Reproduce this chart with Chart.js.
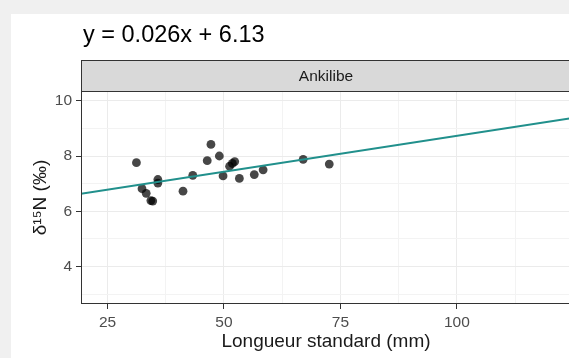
<!DOCTYPE html>
<html>
<head>
<meta charset="utf-8">
<script src="https://cdn.jsdelivr.net/npm/chart.js@4/dist/chart.umd.min.js"></script>
<style>
  html, body { margin: 0; padding: 0; overflow: hidden; background: #f0f0f0; width: 569px; height: 358px; }
  canvas { display: block; }
</style>
</head>
<body>
<canvas id="c" width="580" height="358" style="width:580px;height:358px"></canvas>
<script>
// Standard length (mm) and δ15N (‰) of each fish caught at Ankilibe
const lengthMm = [31.2, 32.4, 33.3, 34.3, 34.7, 35.8, 35.8, 41.2, 43.3, 46.4, 47.2,
                  49.0, 49.8, 51.2, 51.8, 52.3, 53.3, 56.5, 58.4, 67.0, 72.6];
const delta15N = [7.76, 6.82, 6.65, 6.39, 6.37, 7.15, 7.02, 6.73, 7.30, 7.83, 8.42,
                  8.00, 7.28, 7.63, 7.73, 7.80, 7.19, 7.33, 7.50, 7.88, 7.71];

// Linear fit printed above the panel
const fitSlope = 0.026;
const fitIntercept = 6.13;

const siteName = 'Ankilibe';
const xTicks = [25, 37.5, 50, 62.5, 75, 87.5, 100, 112.5];
const xLabelled = [25, 50, 75, 100];
const yTicks = [3, 4, 5, 6, 7, 8, 9, 10];
const yLabelled = [4, 6, 8, 10];

const X_MIN = 19.3, X_MAX = 124.5;
const Y_MIN = 2.65, Y_MAX = 10.35;
const STRIP_TOP = 60;
const FONT = '"Liberation Sans", Arial, sans-serif';

const equationText = 'y = ' + fitSlope + 'x + ' + fitIntercept;
const fitLine = [X_MIN, X_MAX].map(x => ({ x: x, y: fitIntercept + fitSlope * x }));
const points = lengthMm.map((x, i) => ({ x: x, y: delta15N[i] }));

const panelDecor = {
  id: 'panelDecor',
  beforeDraw(chart) {
    const c = chart.ctx, a = chart.chartArea;
    c.save();
    c.fillStyle = '#f0f0f0';
    c.fillRect(0, 0, chart.width, chart.height);
    c.fillStyle = '#ffffff';
    c.fillRect(11, 14, chart.width - 11, chart.height - 14);

    // equation title
    c.fillStyle = '#000000';
    c.font = '23.5px ' + FONT;
    c.textAlign = 'left';
    c.textBaseline = 'alphabetic';
    c.fillText(equationText, 83, 42);

    // facet strip
    c.fillStyle = '#d9d9d9';
    c.fillRect(a.left, STRIP_TOP, a.right - a.left, a.top - STRIP_TOP);
    c.strokeStyle = '#333333';
    c.lineWidth = 1;
    c.strokeRect(a.left + 0.5, STRIP_TOP + 0.5, a.right - a.left - 1, a.top - STRIP_TOP);
    c.fillStyle = '#1a1a1a';
    c.font = '15.5px ' + FONT;
    c.textAlign = 'center';
    c.textBaseline = 'middle';
    c.fillText(siteName, (a.left + a.right) / 2, (STRIP_TOP + a.top) / 2 + 1);
    c.restore();
  },
  afterDraw(chart) {
    const c = chart.ctx, a = chart.chartArea;
    c.save();
    c.strokeStyle = '#333333';
    c.lineWidth = 1;
    c.strokeRect(a.left + 0.5, a.top + 0.5, a.right - a.left - 1, a.bottom - a.top - 1);
    c.restore();
  }
};

new Chart(document.getElementById('c').getContext('2d'), {
  type: 'scatter',
  data: {
    datasets: [
      {
        type: 'line',
        data: fitLine,
        borderColor: '#21908c',
        borderWidth: 2,
        pointRadius: 0,
        fill: false
      },
      {
        data: points,
        backgroundColor: 'rgba(0,0,0,0.72)',
        borderWidth: 0,
        pointRadius: 4.4,
        pointHoverRadius: 4.4
      }
    ]
  },
  options: {
    responsive: false,
    animation: false,
    events: [],
    layout: { padding: { top: 91, right: 9, bottom: 0, left: 0 } },
    plugins: { legend: { display: false }, tooltip: { enabled: false } },
    scales: {
      x: {
        type: 'linear',
        min: X_MIN,
        max: X_MAX,
        afterBuildTicks: s => { s.ticks = xTicks.map(v => ({ value: v })); },
        afterFit: s => { s.height = 54; },
        border: { display: false },
        grid: {
          color: ctx => xLabelled.includes(ctx.tick && ctx.tick.value) ? '#ebebeb' : '#f3f3f3',
          lineWidth: 1,
          tickLength: 5,
          tickColor: ctx => xLabelled.includes(ctx.tick && ctx.tick.value) ? '#333333' : 'rgba(0,0,0,0)'
        },
        ticks: {
          autoSkip: false,
          maxRotation: 0,
          padding: 4,
          color: '#4d4d4d',
          font: { family: FONT, size: 15.5 },
          callback: v => xLabelled.includes(v) ? String(v) : ''
        },
        title: {
          display: true,
          text: 'Longueur standard (mm)',
          color: '#1a1a1a',
          font: { family: FONT, size: 19 },
          padding: { top: 0, bottom: 5 }
        }
      },
      y: {
        type: 'linear',
        min: Y_MIN,
        max: Y_MAX,
        afterBuildTicks: s => { s.ticks = yTicks.map(v => ({ value: v })); },
        afterFit: s => { s.width = 81; },
        border: { display: false },
        grid: {
          color: ctx => yLabelled.includes(ctx.tick && ctx.tick.value) ? '#ebebeb' : '#f3f3f3',
          lineWidth: 1,
          tickLength: 5,
          tickColor: ctx => yLabelled.includes(ctx.tick && ctx.tick.value) ? '#333333' : 'rgba(0,0,0,0)'
        },
        ticks: {
          autoSkip: false,
          padding: 4,
          color: '#4d4d4d',
          font: { family: FONT, size: 15.5 },
          callback: v => yLabelled.includes(v) ? String(v) : ''
        },
        title: {
          display: true,
          text: 'δ¹⁵N (‰)',
          color: '#1a1a1a',
          font: { family: FONT, size: 19 },
          padding: { top: 29, bottom: 0 }
        }
      }
    }
  },
  plugins: [panelDecor]
});
</script>
</body>
</html>
